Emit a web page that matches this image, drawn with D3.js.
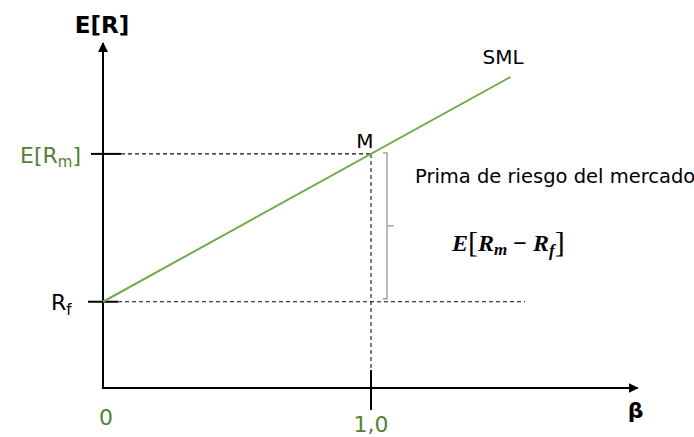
<!DOCTYPE html>
<html>
<head>
<meta charset="utf-8">
<script src="https://cdn.jsdelivr.net/npm/d3@7"></script>
<style>
  body { margin: 0; background: #fff; }
</style>
</head>
<body>
<div id="chart"></div>
<script>
// values (beta and expected return)
const riskFree = 0.035;
const marketReturn = 0.095;
const marketBeta = 1.0;
const smlBetas = [0, 1.52];
const rfDashEnd = 1.575;
const xTicks = [{ v: 0, label: "0" }, { v: 1.0, label: "1,0" }];

const width = 694, height = 437;
const green = "#70ad47", greenText = "#548235";
const sans = "'DejaVu Sans', sans-serif";

const x = d3.scaleLinear().domain([0, 2]).range([103, 639]);
const y = d3.scaleLinear().domain([0, 0.14]).range([388, 43]);

const svg = d3.select("#chart").append("svg")
    .attr("width", width)
    .attr("height", height)
    .style("font-family", sans);

const defs = svg.append("defs");
defs.append("marker")
    .attr("id", "arrow")
    .attr("viewBox", "0 0 10 10")
    .attr("refX", 9).attr("refY", 5)
    .attr("markerWidth", 5).attr("markerHeight", 5)
    .attr("orient", "auto")
    .append("path").attr("d", "M0,0 L10,5 L0,10 z").attr("fill", "#000");

const sml = d => y(riskFree + d * (marketReturn - riskFree));

// dashed guides
const dash = svg.append("g").attr("stroke", "#111").attr("stroke-width", 1.1)
    .attr("stroke-dasharray", "4,3");
dash.append("line")
    .attr("x1", x(0) + 18).attr("x2", x(marketBeta))
    .attr("y1", y(marketReturn)).attr("y2", y(marketReturn));
dash.append("line")
    .attr("x1", x(0) + 15).attr("x2", x(rfDashEnd))
    .attr("y1", y(riskFree)).attr("y2", y(riskFree));
dash.append("line")
    .attr("x1", x(marketBeta)).attr("x2", x(marketBeta))
    .attr("y1", y(marketReturn)).attr("y2", y(0) - 18);

// axes
svg.append("line")
    .attr("x1", x(0)).attr("x2", x(0))
    .attr("y1", y(0) + 1).attr("y2", y(0.14))
    .attr("stroke", "#000").attr("stroke-width", 2)
    .attr("marker-end", "url(#arrow)");
svg.append("line")
    .attr("x1", x(0) - 1).attr("x2", x(1.995))
    .attr("y1", y(0)).attr("y2", y(0))
    .attr("stroke", "#000").attr("stroke-width", 2)
    .attr("marker-end", "url(#arrow)");

// ticks
const ticks = svg.append("g").attr("stroke", "#000").attr("stroke-width", 2);
ticks.append("line")
    .attr("x1", x(0) - 12).attr("x2", x(0) + 18)
    .attr("y1", y(marketReturn)).attr("y2", y(marketReturn));
ticks.append("line")
    .attr("x1", x(0) - 15).attr("x2", x(0) + 15)
    .attr("y1", y(riskFree)).attr("y2", y(riskFree));
ticks.append("line")
    .attr("x1", x(marketBeta)).attr("x2", x(marketBeta))
    .attr("y1", y(0) - 18).attr("y2", y(0) + 22);

// SML
svg.append("path")
    .datum(smlBetas)
    .attr("d", d3.line().x(d => x(d)).y(d => sml(d)))
    .attr("fill", "none")
    .attr("stroke", green)
    .attr("stroke-width", 2);

// bracket for market risk premium
const bx = x(marketBeta) + 16;
const bMid = (y(marketReturn) + y(riskFree)) / 2 - 2;
svg.append("path")
    .attr("d", `M${bx - 4},${y(marketReturn) - 1} L${bx},${y(marketReturn) - 1}
        L${bx},${y(riskFree) - 3} L${bx - 4},${y(riskFree) - 3}
        M${bx},${bMid} L${bx + 7},${bMid}`)
    .attr("fill", "none")
    .attr("stroke", "#999")
    .attr("stroke-width", 1.3);

// labels
svg.append("text")
    .attr("x", x(0) - 1).attr("y", 33)
    .attr("text-anchor", "middle")
    .attr("font-size", 23).attr("font-weight", "bold")
    .text("E[R]");

const erm = svg.append("text")
    .attr("x", 81).attr("y", y(marketReturn) + 9)
    .attr("text-anchor", "end")
    .attr("font-size", 22).attr("fill", greenText);
erm.append("tspan").text("E[R");
erm.append("tspan").attr("font-size", 15).attr("dy", 4).text("m");
erm.append("tspan").attr("dy", -4).text("]");

const rf = svg.append("text")
    .attr("x", 51).attr("y", y(riskFree) + 8)
    .attr("font-size", 22);
rf.append("tspan").text("R");
rf.append("tspan").attr("font-size", 15).attr("dy", 5).text("f");

svg.append("g").selectAll("text")
    .data(xTicks)
    .join("text")
    .attr("x", d => x(d.v) + (d.v === 0 ? 3 : 0))
    .attr("y", d => d.v === 0 ? 425 : 432)
    .attr("text-anchor", "middle")
    .attr("font-size", 22)
    .attr("fill", greenText)
    .text(d => d.label);

svg.append("text")
    .attr("x", x(1.995) - 2).attr("y", 418)
    .attr("text-anchor", "middle")
    .attr("font-size", 22).attr("font-weight", "bold")
    .text("β");

svg.append("text")
    .attr("x", 503).attr("y", 64)
    .attr("text-anchor", "middle")
    .attr("font-size", 20)
    .text("SML");

svg.append("text")
    .attr("x", x(marketBeta) - 6).attr("y", y(marketReturn) - 6)
    .attr("text-anchor", "middle")
    .attr("font-size", 20)
    .text("M");

svg.append("text")
    .attr("x", 415).attr("y", 183)
    .attr("font-size", 19.5)
    .text("Prima de riesgo del mercado");

const prem = svg.append("text")
    .attr("x", 452).attr("y", 251)
    .style("font-family", "'Liberation Serif', 'DejaVu Serif', serif")
    .attr("font-size", 24)
    .attr("font-weight", "bold").attr("font-style", "italic");
prem.append("tspan").text("E");
prem.append("tspan").attr("font-style", "normal").attr("font-weight", "normal").attr("font-size", 30).attr("dy", 1).text("[");
prem.append("tspan").attr("dy", -1).text("R");
prem.append("tspan").attr("font-size", 17).attr("dy", 4).text("m");
prem.append("tspan").attr("dy", -4).attr("font-style", "normal").text(" − ");
prem.append("tspan").text("R");
prem.append("tspan").attr("font-size", 17).attr("dy", 5).text("f");
prem.append("tspan").attr("font-style", "normal").attr("font-weight", "normal").attr("font-size", 30).attr("dy", -4).text("]");
</script>
</body>
</html>
